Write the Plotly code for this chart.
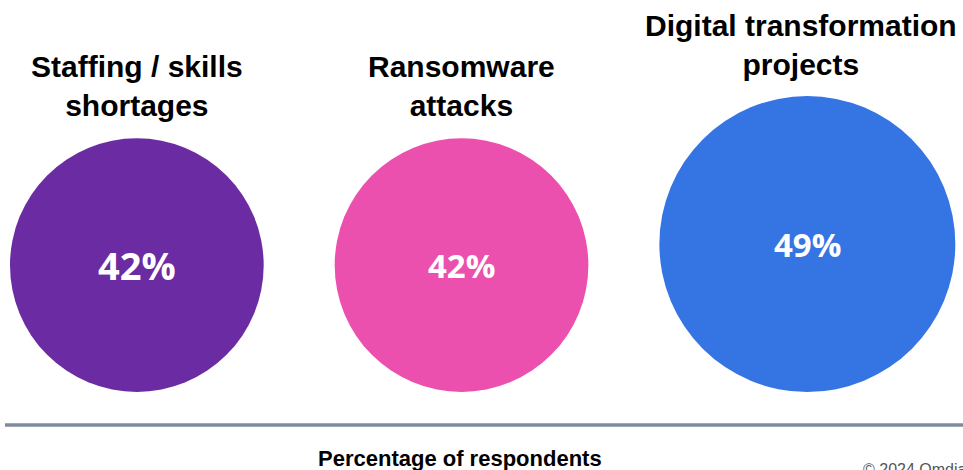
import plotly.graph_objects as go

categories = ["Staffing / skills<br>shortages", "Ransomware<br>attacks", "Digital transformation<br>projects"]
values = [42, 42, 49]
value_labels = ["42%", "42%", "49%"]
colors = ["#6B2BA2", "#EC50AE", "#3574E3"]

W, H = 963, 470
px_per_pct = 3.02      # circle radius in px per percentage point
gap = 71               # gap between circle edges
left = 10
baseline = 392         # circles bottom-aligned

radii = [v * px_per_pct for v in values]
xs = []
cur = left
for r in radii:
    xs.append(cur + r)
    cur += 2 * r + gap
ys = [baseline - r for r in radii]

pct_sizes = [38, 33, 33]
title_dx = [0, 0, -6]
title_gap = [14, 14, 13]

fig = go.Figure()
fig.add_trace(go.Scatter(
    x=xs, y=ys, mode="markers",
    marker=dict(size=[2 * r for r in radii], sizemode="diameter", color=colors,
                opacity=1, line=dict(width=0)),
    hoverinfo="skip", showlegend=False,
))

title_font = "Liberation Sans Narrow, Arial Narrow, Liberation Sans, sans-serif"
for x, y, r, cat, lab, fs, dx, tg in zip(xs, ys, radii, categories, value_labels,
                                         pct_sizes, title_dx, title_gap):
    fig.add_annotation(x=x, y=y, text="<b>" + lab + "</b>", showarrow=False,
                       font=dict(family="Open Sans, sans-serif", size=fs, color="white"),
                       xanchor="center", yanchor="middle")
    fig.add_annotation(x=x + dx, y=y - r - tg, text="<b>" + cat + "</b>", showarrow=False,
                       font=dict(family=title_font, size=30, color="black"),
                       xanchor="center", yanchor="bottom", align="center")

fig.add_shape(type="line", x0=5, x1=W, y0=425, y1=425, xref="x", yref="y",
              line=dict(color="#7F8A9B", width=3.5))
fig.add_annotation(x=460, y=458, text="<b>Percentage of respondents</b>", showarrow=False,
                   font=dict(family=title_font, size=22, color="black"),
                   xanchor="center", yanchor="middle")
fig.add_annotation(x=861, y=459, text="© 2024 Omdia", showarrow=False,
                   font=dict(family=title_font, size=16, color="#555555"),
                   xanchor="left", yanchor="top")

fig.update_xaxes(range=[0, W], visible=False, fixedrange=True)
fig.update_yaxes(range=[H, 0], visible=False, fixedrange=True)
fig.update_layout(width=W, height=H, margin=dict(l=0, r=0, t=0, b=0),
                  plot_bgcolor="white", paper_bgcolor="white")
fig.write_html("out.html")
